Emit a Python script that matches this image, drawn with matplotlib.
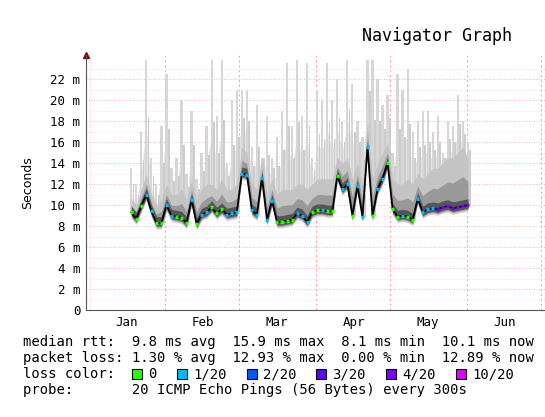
import numpy as np
from matplotlib import pyplot as plt
from matplotlib.patches import Rectangle

# x in days from the left edge of the plot
month_lines = [31.4, 60.8, 91.4, 120.8, 151.8, 181.2]
month_labels = ['Jan', 'Feb', 'Mar', 'Apr', 'May', 'Jun']
month_centers = [16.3, 46.5, 76.0, 106.5, 136.0, 166.5]

days = [18 + 2 * i for i in range(68)]

# median rtt in ms
med = [9.3, 8.7, 9.9, 11.0, 9.4, 8.3, 8.3, 10.0, 9.0, 8.9,
       8.8, 8.3, 10.5, 8.2, 9.1, 9.3, 9.8, 9.2, 9.6, 9.1,
       9.2, 9.3, 13.0, 12.9, 9.5, 9.1, 12.6, 8.6, 10.4, 8.4,
       8.4, 8.5, 8.6, 9.2, 9.0, 8.4, 9.3, 9.5, 9.5, 9.4,
       9.4, 12.8, 11.5, 12.0, 9.0, 11.8, 8.9, 15.5, 9.0, 11.5,
       12.5, 14.0, 9.6, 8.9, 9.0, 8.9, 8.6, 10.6, 9.3, 9.6,
       9.7, 9.6, 9.8, 9.9, 9.7, 9.8, 9.9, 10.0]

# loss per point (out of 20)
loss = [0, 0, 0, 1, 1, 0, 0, 1, 1, 0,
        0, 0, 1, 0, 1, 1, 0, 0, 0, 1,
        1, 1, 1, 1, 1, 1, 1, 1, 1, 0,
        0, 0, 0, 1, 1, 1, 0, 0, 1, 0,
        0, 0, 1, 1, 0, 1, 1, 1, 0, 1,
        1, 0, 0, 0, 1, 0, 0, 1, 1, 1,
        1, 3, 4, 4, 3, 4, 4, 4]

# top of the dense smoke (ms)
mid_top = [10.5, 10.0, 11.5, 13.0, 11.0, 10.0, 10.5, 12.0, 11.0, 11.0,
           11.5, 10.5, 12.5, 10.5, 11.5, 12.0, 12.0, 11.5, 12.5, 11.5,
           11.5, 12.0, 15.5, 15.0, 12.0, 11.5, 14.5, 11.0, 12.5, 11.0,
           11.5, 11.5, 11.5, 12.0, 12.0, 11.5, 12.0, 12.5, 12.5, 12.5,
           12.5, 14.5, 14.0, 14.5, 12.5, 14.0, 12.0, 18.0, 12.5, 14.0,
           15.0, 16.0, 12.5, 12.0, 12.0, 12.5, 12.0, 13.0, 12.5, 13.0,
           13.5, 13.5, 14.0, 14.5, 14.5, 15.0, 15.5, 14.5]

# max of the light smoke (ms)
mx = [13.5, 12.0, 17.0, 23.8, 14.5, 12.0, 17.5, 22.5, 13.5, 14.5,
      20.0, 13.0, 19.0, 12.5, 15.0, 17.5, 23.8, 18.5, 23.8, 14.0,
      20.0, 21.0, 21.0, 21.0, 15.5, 19.5, 14.5, 18.5, 14.5, 16.5,
      19.0, 23.5, 17.5, 23.8, 18.5, 23.5, 14.5, 21.0, 20.0, 23.5,
      20.0, 22.0, 18.0, 23.8, 21.5, 18.0, 16.5, 23.8, 23.8, 22.0,
      19.5, 20.5, 15.0, 22.5, 21.0, 23.0, 17.0, 18.0, 19.0, 19.0,
      17.0, 18.5, 15.0, 18.0, 17.5, 20.5, 18.0, 16.0]

loss_colors = {0: '#26ff00', 1: '#00b8ff', 2: '#0059ff', 3: '#5e00ff',
               4: '#7e00ff', 10: '#dd00ff'}

fig = plt.figure(figsize=(5.45, 4.17), dpi=100)
ax = fig.add_axes([86 / 545, 1 - 310 / 417, 1 - 86 / 545 + 0.02, (310 - 55) / 417])

x = np.array(days)
m = np.array(med)
mt = np.array(mid_top)
top = np.array(mx)
# light smoke: thin spikes plus a base band
ax.fill_between(x, m - 0.6, (mt + top) / 2 - 1, color='#e2e2e2', lw=0, zorder=1)
ax.bar(x, top - m, bottom=m, width=0.9, color='#d6d6d6', lw=0, zorder=1)
ax.bar(x + 0.9, (top + mt) / 2 - m, bottom=m, width=0.7, color='#cccccc', lw=0, zorder=1)
ax.fill_between(x, m - 0.5, mt, color='#c4c4c4', lw=0, zorder=1)
ax.fill_between(x, m - 0.4, (mt + m) / 2, color='#999999', lw=0, zorder=1)
ax.fill_between(x, m - 0.3, m + 0.6, color='#555555', lw=0, zorder=1)
ax.plot(x, m, color='black', lw=1.2, zorder=3)
for xi, yi, li in zip(x, m, loss):
    ax.plot([xi - 0.6, xi + 0.6], [yi, yi], color=loss_colors[li], lw=2.5, zorder=4,
            solid_capstyle='butt')

ax.set_xlim(0, 187)
ax.set_ylim(0, 24.3)
for yv in np.arange(1, 24, 1):
    ax.axhline(yv, color='#ff9999' if yv % 2 == 0 else '#ffcccc', lw=0.6,
               ls=(0, (1, 2)), zorder=0)
for xv in month_lines:
    ax.axvline(xv, color='#ff9999', lw=0.7, ls=(0, (2, 3)), zorder=0)
ax.axvline(1.6, color='#ffbbbb', lw=0.6, ls=(0, (1, 2)), zorder=0)

ax.set_yticks(np.arange(0, 23, 2))
ax.set_yticklabels(['0'] + [f'{v} m' for v in range(2, 23, 2)],
                   family='DejaVu Sans Mono', fontsize=9)
ax.set_xticks(month_centers)
ax.set_xticklabels(month_labels, family='DejaVu Sans Mono', fontsize=9)
ax.tick_params(length=0, pad=4)
for s in ['top', 'right']:
    ax.spines[s].set_visible(False)
ax.spines['left'].set_color('#555555')
ax.spines['bottom'].set_color('#555555')
ax.plot([0], [24.3], marker='^', color='#990000', markersize=5, clip_on=False)
ax.set_ylabel('Seconds', family='DejaVu Sans', fontsize=9, labelpad=12)

fig.text(437 / 545, 1 - 36 / 417, 'Navigator Graph', family='DejaVu Sans Mono',
         fontsize=12, ha='center', va='center')

mono = dict(family='DejaVu Sans', fontsize=9.6, va='center')
fig.text(23 / 545, 1 - 342 / 417,
         'median rtt:  9.8 ms avg  15.9 ms max  8.1 ms min  10.1 ms now',
         family='DejaVu Sans Mono', fontsize=10, va='center')
fig.text(23 / 545, 1 - 358 / 417,
         'packet loss: 1.30 % avg  12.93 % max  0.00 % min  12.89 % now',
         family='DejaVu Sans Mono', fontsize=10, va='center')
fig.text(23 / 545, 1 - 374 / 417, 'loss color:',
         family='DejaVu Sans Mono', fontsize=10, va='center')
fig.text(23 / 545, 1 - 390 / 417,
         'probe:       20 ICMP Echo Pings (56 Bytes) every 300s',
         family='DejaVu Sans Mono', fontsize=10, va='center')
legend_items = [(0, '0', 132), (1, '1/20', 177), (2, '2/20', 247),
                (3, '3/20', 316), (4, '4/20', 386), (10, '10/20', 456)]
for key, lab, px in legend_items:
    fig.patches.append(Rectangle((px / 545, 1 - 379 / 417), 10 / 545, 10 / 417,
                                 transform=fig.transFigure, facecolor=loss_colors[key],
                                 edgecolor='black', lw=0.8))
    fig.text((px + 16) / 545, 1 - 374 / 417, lab,
             family='DejaVu Sans Mono', fontsize=10, va='center')

fig.savefig('out.png', dpi=100)
